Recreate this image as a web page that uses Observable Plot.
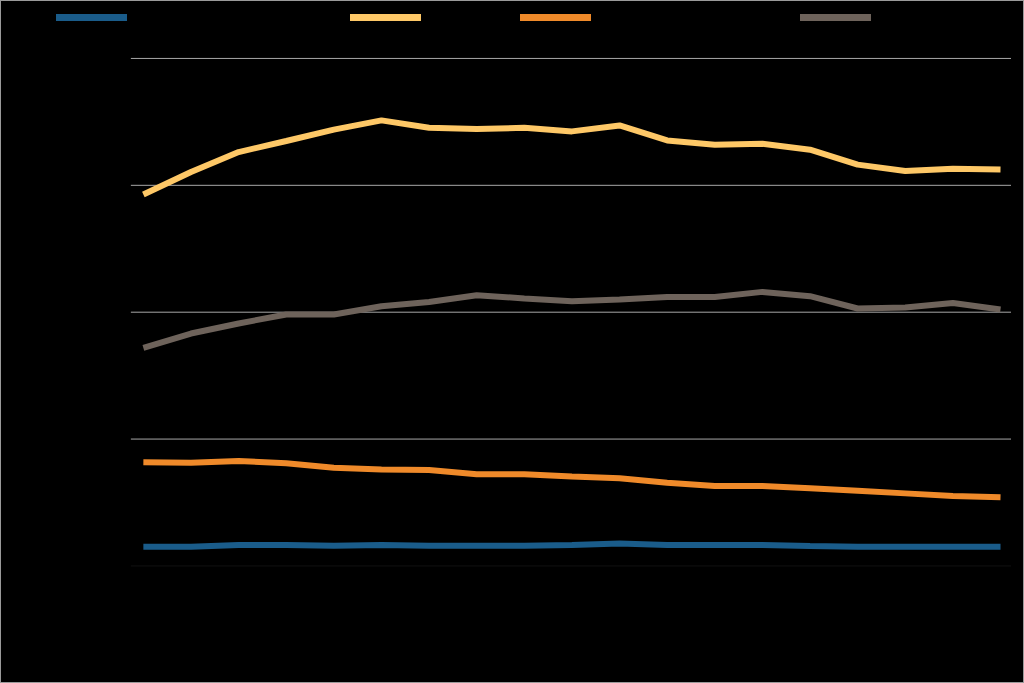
<!DOCTYPE html>
<html>
<head>
<meta charset="utf-8">
<script src="https://cdn.jsdelivr.net/npm/d3@7"></script>
<script src="https://cdn.jsdelivr.net/npm/@observablehq/plot@0.6"></script>
<style>
  html, body { margin: 0; padding: 0; background: #000; }
  #frame { position: relative; width: 1024px; height: 683px; box-sizing: border-box; border: 1px solid #9a9a9a; background: #000; overflow: hidden; font-family: "Liberation Sans", Arial, sans-serif; }
  #chart { position: absolute; left: -1px; top: -1px; }
  .leg { position: absolute; top: 9px; display: flex; align-items: center; font-size: 13px; color: #000; }
  .sw { width: 71px; height: 7px; margin-right: 8px; }
</style>
</head>
<body>
<div id="frame">
  <div id="chart"></div>
</div>
<script>
const years = [2000,2001,2002,2003,2004,2005,2006,2007,2008,2009,2010,2011,2012,2013,2014,2015,2016,2017,2018];
const seriesNames = ["Series 1", "Series 2", "Series 3", "Series 4"];
const seriesColors = ["#1a5c8a", "#fec867", "#ef8a2a", "#6e635b"];
const series1 = [1.52,1.52,1.65,1.65,1.60,1.65,1.60,1.60,1.60,1.65,1.76,1.65,1.65,1.65,1.57,1.52,1.52,1.52,1.52];
const series2 = [29.27,31.05,32.62,33.49,34.39,35.12,34.54,34.43,34.54,34.25,34.72,33.54,33.20,33.28,32.81,31.63,31.13,31.31,31.24];
const series3 = [8.17,8.13,8.27,8.09,7.74,7.61,7.56,7.22,7.22,7.05,6.91,6.56,6.30,6.30,6.12,5.93,5.72,5.51,5.41];
const series4 = [17.19,18.32,19.11,19.82,19.82,20.47,20.81,21.34,21.08,20.87,21.00,21.20,21.20,21.60,21.26,20.29,20.37,20.73,20.21];
const yTicks = [0,10,20,30,40];
const legendLefts = [56, 350, 520, 800];

const allSeries = [series1, series2, series3, series4];
const data = [];
allSeries.forEach((vals, i) => vals.forEach((v, j) => data.push({year: years[j], value: v, series: seriesNames[i]})));

const frame = document.getElementById("frame");
seriesNames.forEach((name, i) => {
  const d = document.createElement("div");
  d.className = "leg";
  d.style.left = (legendLefts[i] - 1) + "px";
  d.innerHTML = `<span class="sw" style="background:${seriesColors[i]}"></span><span>${name}</span>`;
  frame.appendChild(d);
});

const chart = Plot.plot({
  width: 1024,
  height: 683,
  marginTop: 58,
  marginBottom: 117,
  marginLeft: 131,
  marginRight: 12,
  style: { background: "transparent", color: "#000", fontFamily: "Liberation Sans, Arial, sans-serif", fontSize: "12px" },
  x: { domain: [2000, 2018], insetLeft: 12, insetRight: 11, label: null },
  y: { domain: [0, 40], label: null },
  color: { domain: seriesNames, range: seriesColors },
  marks: [
    Plot.ruleY(yTicks.filter(t => t > 0), { stroke: "#a8a8a8", strokeWidth: 1 }),
    Plot.ruleY([0], { stroke: "#111", strokeWidth: 1 }),
    Plot.axisY({ ticks: yTicks, tickSize: 0, fill: "#000", tickFormat: d => d + "%" }),
    Plot.axisX({ ticks: years, tickSize: 0, fill: "#000", tickFormat: d => String(d) }),
    Plot.line(data, { x: "year", y: "value", stroke: "series", strokeWidth: 6, strokeLinejoin: "miter", strokeLinecap: "butt" })
  ]
});
document.getElementById("chart").appendChild(chart);
</script>
</body>
</html>
